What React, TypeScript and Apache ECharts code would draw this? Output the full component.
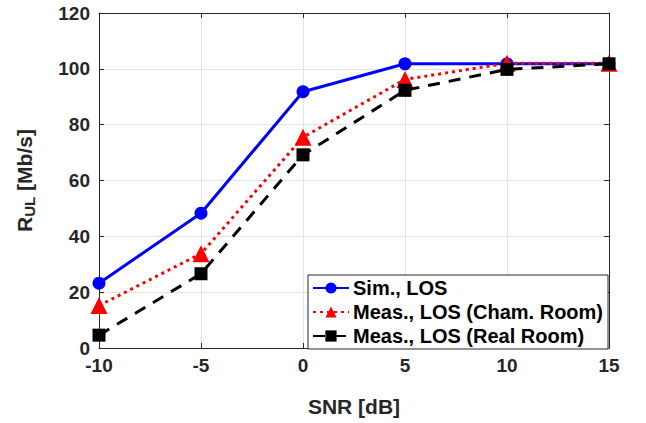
import React, { useEffect, useRef } from "react";
import * as echarts from "echarts";

const snr = [-10, -5, 0, 5, 10, 15];
const simLOS = [23.2, 48.3, 91.8, 101.8, 101.8, 101.8];
const measCham = [15.2, 33.8, 75.5, 96.2, 102.0, 102.0];
const measReal = [4.6, 26.6, 69.2, 92.3, 99.8, 101.8];
const seriesNames = ["Sim., LOS", "Meas., LOS (Cham. Room)", "Meas., LOS (Real Room)"];

const FONT = "'Liberation Sans', Arial, sans-serif";
const TXT = "#262626";

export default function App() {
  const ref = useRef<HTMLDivElement>(null);
  useEffect(() => {
    if (!ref.current) return;
    const chart = echarts.init(ref.current, undefined, { renderer: "svg" });
    const pair = (ys: number[]) => snr.map((x, i) => [x, ys[i]]);
    const axisLine = { show: true, onZero: false, lineStyle: { color: TXT, width: 1 } };
    const tick = { show: true, inside: true, length: 5, lineStyle: { color: TXT } };
    chart.setOption({
      animation: false,
      backgroundColor: "#ffffff",
      textStyle: { fontFamily: FONT },
      grid: { left: 99, top: 13, right: 37, bottom: 75, containLabel: false },
      legend: {
        orient: "vertical",
        left: 308,
        top: 275,
        padding: [3, 5, 3, 4],
        itemGap: 4,
        itemWidth: 36,
        itemHeight: 14,
        backgroundColor: "#ffffff",
        borderColor: TXT,
        borderWidth: 1,
        borderRadius: 0,
        textStyle: { fontFamily: FONT, fontWeight: "bold", fontSize: 20, color: "#000", padding: [0, 0, 0, -1] },
        data: seriesNames,
      },
      xAxis: [
        {
          type: "value",
          min: -10,
          max: 15,
          interval: 5,
          name: "SNR [dB]",
          nameLocation: "middle",
          nameGap: 48,
          nameTextStyle: { fontFamily: FONT, fontWeight: "bold", fontSize: 21, color: TXT },
          axisLine,
          axisTick: tick,
          axisLabel: { fontFamily: FONT, fontWeight: "bold", fontSize: 19, color: TXT, margin: 8 },
          splitLine: { show: true, lineStyle: { color: "#e3e3e3", width: 1 } },
        },
        {
          type: "value",
          position: "top",
          min: -10,
          max: 15,
          interval: 5,
          axisLine,
          axisTick: tick,
          axisLabel: { show: false },
          splitLine: { show: false },
        },
      ],
      yAxis: [
        {
          type: "value",
          min: 0,
          max: 120,
          interval: 20,
          name: "R{sub|UL} [Mb/s]",
          nameLocation: "middle",
          nameGap: 62,
          nameTextStyle: {
            fontFamily: FONT,
            fontWeight: "bold",
            fontSize: 21,
            color: TXT,
            rich: {
              sub: { fontFamily: FONT, fontWeight: "bold", fontSize: 15, color: TXT, verticalAlign: "bottom", padding: [10, 0, 0, 0] },
            },
          },
          axisLine,
          axisTick: tick,
          axisLabel: { fontFamily: FONT, fontWeight: "bold", fontSize: 19, color: TXT, margin: 9 },
          splitLine: { show: true, lineStyle: { color: "#e3e3e3", width: 1 } },
        },
        {
          type: "value",
          position: "right",
          min: 0,
          max: 120,
          interval: 20,
          axisLine,
          axisTick: tick,
          axisLabel: { show: false },
          splitLine: { show: false },
        },
      ],
      series: [
        {
          name: seriesNames[0],
          type: "line",
          data: pair(simLOS),
          symbol: "circle",
          symbolSize: 13,
          itemStyle: { color: "#0000ff" },
          lineStyle: { color: "#0000ff", width: 3 },
          z: 2,
        },
        {
          name: seriesNames[1],
          type: "line",
          data: pair(measCham),
          symbol: "triangle",
          symbolSize: 17,
          itemStyle: { color: "#ff0000" },
          lineStyle: { color: "#ff0000", width: 3, type: [3, 4] },
          z: 3,
        },
        {
          name: seriesNames[2],
          type: "line",
          data: pair(measReal),
          symbol: "rect",
          symbolSize: 13,
          itemStyle: { color: "#000000" },
          lineStyle: { color: "#000000", width: 3, type: [12, 9] },
          z: 4,
        },
      ],
    });
    return () => chart.dispose();
  }, []);
  return <div ref={ref} style={{ width: 646, height: 423, position: "absolute", left: 0, top: 0 }} />;
}
